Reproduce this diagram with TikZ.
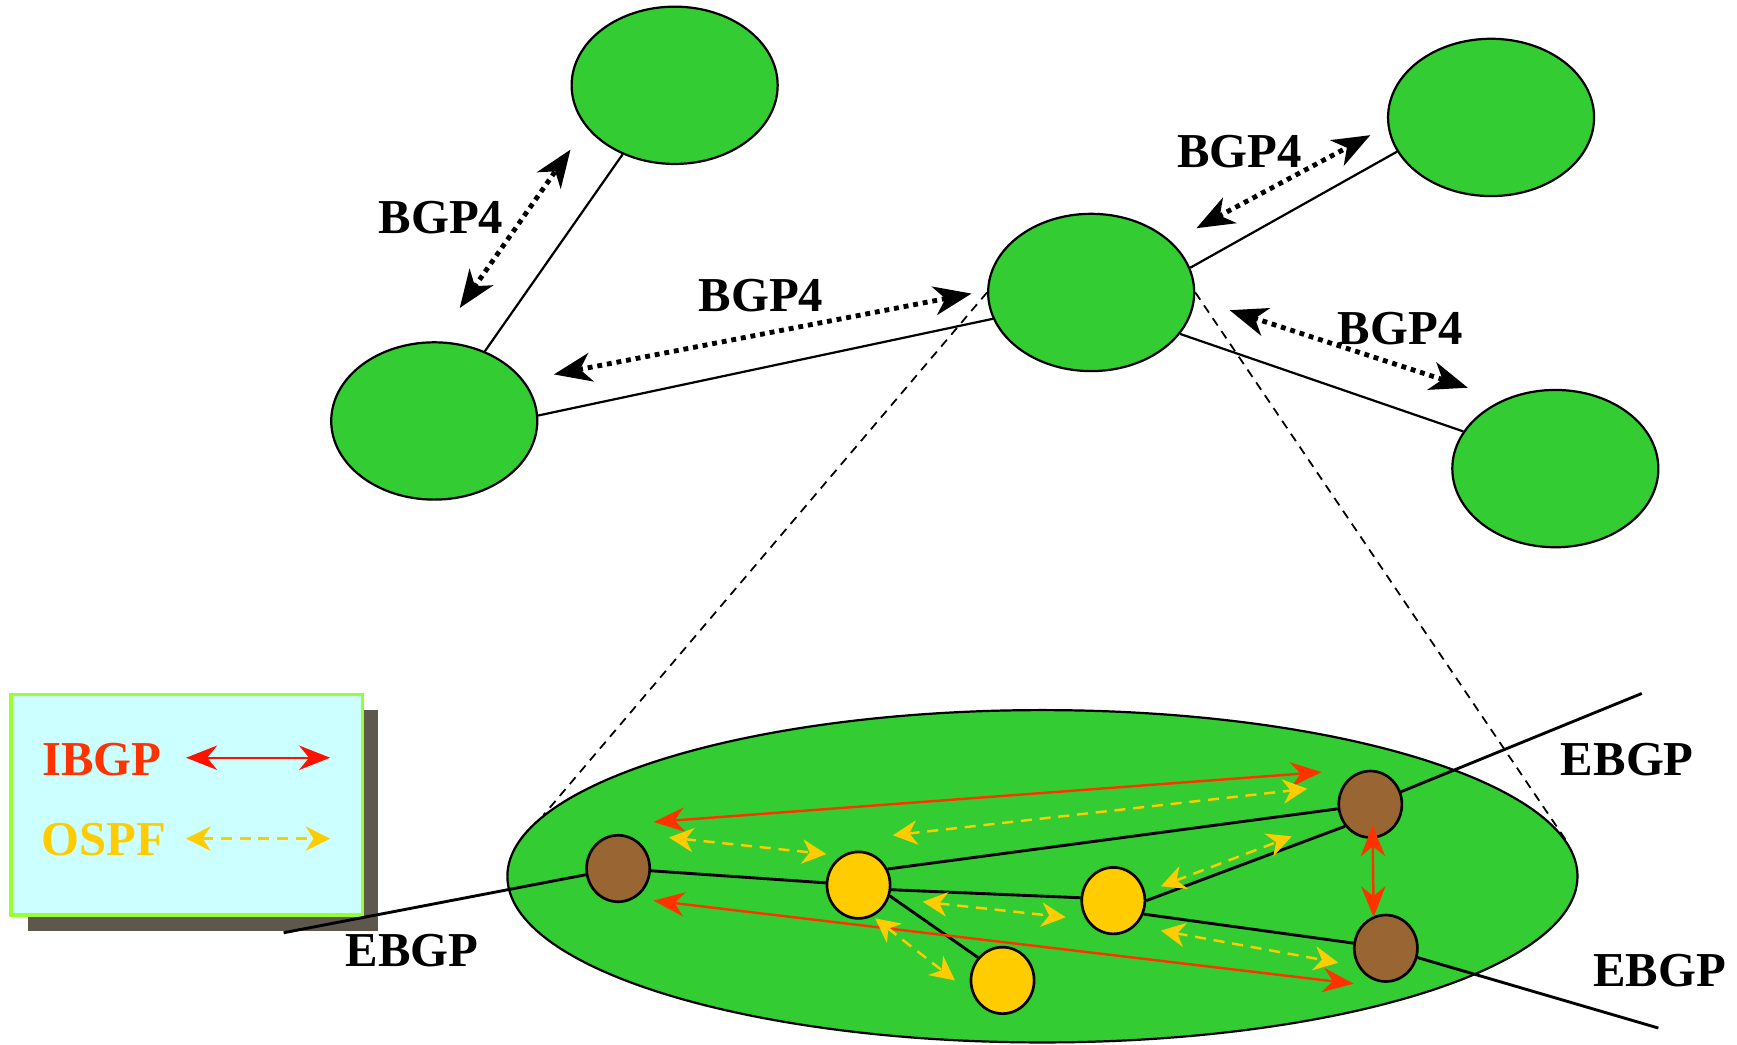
\documentclass[tikz,border=0pt]{standalone}
\usepackage{fontspec}
\setmainfont{Liberation Serif}
\usetikzlibrary{arrows.meta,shapes.geometric}
\definecolor{grn}{HTML}{33CC33}
\definecolor{brn}{HTML}{996633}
\definecolor{ylw}{HTML}{FFCC00}
\definecolor{redarr}{HTML}{FF3300}
\definecolor{redleg}{HTML}{FF1100}
\definecolor{legbg}{HTML}{CCFFFF}
\definecolor{legbd}{HTML}{99FF33}
\definecolor{shad}{HTML}{5E574E}
\begin{document}
\begin{tikzpicture}[x=0.5pt,y=-0.5pt,
  asnode/.style={ellipse, draw=black, line width=1pt, fill=grn, minimum width=93pt, minimum height=71pt, inner sep=0pt},
  bignode/.style={ellipse, draw=black, line width=1pt, fill=grn, minimum width=483pt, minimum height=150pt, inner sep=0pt},
  brnode/.style={ellipse, draw=black, line width=1.2pt, fill=brn, minimum width=28.5pt, minimum height=30pt, inner sep=0pt},
  ylnode/.style={ellipse, draw=black, line width=1.2pt, fill=ylw, minimum width=28.5pt, minimum height=30pt, inner sep=0pt},
  lbl/.style={font=\fontsize{22}{24}\selectfont\bfseries, inner sep=0pt},
  link/.style={draw=black, line width=1pt},
  inlink/.style={draw=black, line width=1.3pt},
  bgparrow/.style={draw=black, line width=2.2pt, dash pattern=on 2.2pt off 2.2pt,
     {Stealth[length=17pt,width=13pt,inset=5pt]}-{Stealth[length=17pt,width=13pt,inset=5pt]}},
  ibgparrow/.style={draw=redarr, line width=1.1pt,
     {Stealth[length=14pt,width=11pt,inset=4.5pt]}-{Stealth[length=14pt,width=11pt,inset=4.5pt]}},
  ospfarrow/.style={draw=ylw, line width=1.1pt, dash pattern=on 5pt off 3.5pt,
     {Stealth[length=11pt,width=11pt,inset=3.5pt]}-{Stealth[length=11pt,width=11pt,inset=3.5pt]}},
  zoomline/.style={draw=black, line width=0.8pt, dash pattern=on 4pt off 3pt}
]
\useasboundingbox (0,0) rectangle (1568,943);

% legend (drawn first, the EBGP line passes over its shadow)
\fill[shad] (25,641) rectangle (341,840);
\draw[draw=legbd, fill=legbg, line width=1.5pt] (10,627) rectangle (327,826);
\node[lbl, text=redarr] (li) at (92,686) {IBGP};
\node[lbl, text=ylw] (lo) at (94,758) {OSPF};
\coordinate (lis) at (168,684); \coordinate (lie) at (298,684);
\coordinate (los) at (168,757); \coordinate (loe) at (298,757);
\draw[ibgparrow, draw=redleg] (lis) -- (lie);
\draw[ospfarrow] (los) -- (loe);

% top autonomous systems
\node[asnode] (A) at (609,77) {};
\node[asnode] (B) at (392,380) {};
\node[asnode] (C) at (985,264) {};
\node[asnode] (D) at (1346,106) {};
\node[asnode] (E) at (1404,423) {};

\draw[link] (A.233.9) -- (B.54);
\draw[link] (B.3) -- (C.195.9);
\draw[link] (C.14.6) -- (D.200.9);
\draw[link] (C.335.5) -- (E.158.6);

% BGP4 arrows
\coordinate (a1s) at (415,278); \coordinate (a1e) at (515,135);
\coordinate (a2s) at (500,338); \coordinate (a2e) at (877,265);
\coordinate (a3s) at (1080,206); \coordinate (a3e) at (1237,122);
\coordinate (a4s) at (1110,280); \coordinate (a4e) at (1325,350);
\draw[bgparrow] (a1s) -- (a1e);
\draw[bgparrow] (a2s) -- (a2e);
\draw[bgparrow] (a3s) -- (a3e);
\draw[bgparrow] (a4s) -- (a4e);

\node[lbl] (l1) at (398,196) {BGP4};
\node[lbl] (l2) at (687,267) {BGP4};
\node[lbl] (l3) at (1119,137) {BGP4};
\node[lbl] (l4) at (1264,297) {BGP4};

% expanded AS
\node[bignode] (Big) at (941,791) {};
\draw[zoomline] (C.west) -- (Big.173.9);
\draw[zoomline] (C.east) -- (Big.4.4);

\coordinate (ebl) at (256,842);
\coordinate (ebr1) at (1482,626);
\coordinate (ebr2) at (1497,928);

\node[brnode] (L) at (558,784) {};
\node[ylnode] (Y1) at (775,799) {};
\node[ylnode] (Y2) at (905,885) {};
\node[ylnode] (Y3) at (1005,813) {};
\node[brnode] (R1) at (1237,726) {};
\node[brnode] (R2) at (1251,856) {};

\draw[inlink] (ebl) -- (L);
\draw[inlink] (L) -- (Y1);
\draw[inlink] (Y1.29) -- (R1.188.4);
\draw[inlink] (Y1.-8) -- (Y3.175.8);
\draw[inlink] (Y1.-19.8) -- (Y2.137.9);
\draw[inlink] (Y3.0) -- (R1.221.3);
\draw[inlink] (Y3.-24.9) -- (R2.171.6);
\draw[inlink] (R1) -- (ebr1);
\draw[inlink] (R2) -- (ebr2);

% IBGP arrows
\coordinate (r1s) at (590,742); \coordinate (r1e) at (1193,697);
\coordinate (r2s) at (590,813); \coordinate (r2e) at (1222,888);
\coordinate (r3s) at (1239,745); \coordinate (r3e) at (1240,828);
\draw[ibgparrow] (r1s) -- (r1e);
\draw[ibgparrow] (r2s) -- (r2e);
\draw[ibgparrow] (r3s) -- (r3e);

% OSPF arrows
\coordinate (o1s) at (604,756); \coordinate (o1e) at (746,771);
\coordinate (o2s) at (806,754); \coordinate (o2e) at (1180,712);
\coordinate (o3s) at (833,814); \coordinate (o3e) at (962,828);
\coordinate (o4s) at (790,829); \coordinate (o4e) at (862,885);
\coordinate (o5s) at (1048,800); \coordinate (o5e) at (1166,755);
\coordinate (o6s) at (1048,840); \coordinate (o6e) at (1208,869);
\draw[ospfarrow] (o1s) -- (o1e);
\draw[ospfarrow] (o2s) -- (o2e);
\draw[ospfarrow] (o3s) -- (o3e);
\draw[ospfarrow] (o4s) -- (o4e);
\draw[ospfarrow] (o5s) -- (o5e);
\draw[ospfarrow] (o6s) -- (o6e);

\node[lbl] (e1) at (372,858) {EBGP};
\node[lbl] (e2) at (1469,686) {EBGP};
\node[lbl] (e3) at (1498,876) {EBGP};
\end{tikzpicture}
\end{document}
